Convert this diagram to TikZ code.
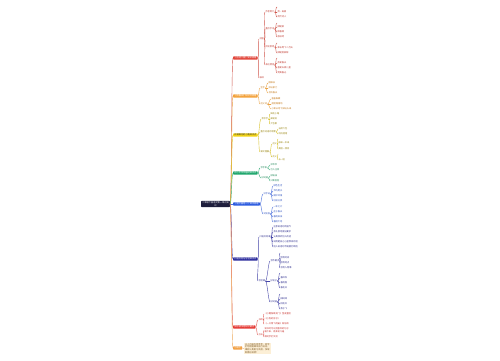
\documentclass[tikz,border=0pt]{standalone}
\usepackage{fontspec}
\setmainfont{Noto Sans CJK SC}
\XeTeXlinebreaklocale "zh"
\XeTeXlinebreakskip=0pt plus 0.5pt
\definecolor{rootC}{HTML}{1E1E3C}
\definecolor{rBox}{HTML}{E2483D}\definecolor{rLine}{HTML}{D0564C}\definecolor{rText}{HTML}{C03A30}
\definecolor{oBox}{HTML}{F3A23B}\definecolor{oLine}{HTML}{EBA445}\definecolor{oText}{HTML}{C57A1A}
\definecolor{yBox}{HTML}{F4D516}\definecolor{yLine}{HTML}{D9C22A}\definecolor{yText}{HTML}{9A8612}
\definecolor{gBox}{HTML}{1EA66C}\definecolor{gLine}{HTML}{37AD78}\definecolor{gText}{HTML}{1B8656}
\definecolor{bBox}{HTML}{2C5BE0}\definecolor{bLine}{HTML}{4A70DD}\definecolor{bText}{HTML}{2A4FBF}
\definecolor{nBox}{HTML}{2E2E9E}\definecolor{nLine}{HTML}{4545A8}\definecolor{nText}{HTML}{2E2E8E}
\definecolor{r2Box}{HTML}{E53B36}\definecolor{r2Line}{HTML}{E0554F}\definecolor{r2Text}{HTML}{C8302B}
\definecolor{o2Box}{HTML}{F2A145}\definecolor{o2Line}{HTML}{EDA85A}
\definecolor{noteC}{HTML}{FCEFD6}\definecolor{noteText}{HTML}{7A5520}
\begin{document}
\begin{tikzpicture}[x=1pt,y=-1pt,line cap=round,line join=round,
  every node/.style={font=\fontsize{2.2}{2.7}\selectfont},
  mainbox/.style={anchor=west,rounded corners=0.6pt,inner xsep=1.2pt,inner ysep=0.7pt,text=white},
  sub/.style={anchor=west,inner sep=0.3pt},
  link/.style={line width=0.4pt},
  bra/.style={link,to path={.. controls +(1.5,0) and +(-1.5,0) .. (\tikztotarget)}}]
  \useasboundingbox[fill=white] (0,0) rectangle (500,360);
  % root and the eight main branches
  \node[mainbox,anchor=center,fill=rootC,align=center] (root) at (215.5,204)
    {二年级下册语文第一单元知\\识};
  \node[mainbox,fill=rBox] (m1) at (233,58) {《古诗二首》知识梳理};
  \node[mainbox,fill=oBox] (m2) at (233,96) {《找春天》知识点梳理};
  \node[mainbox,fill=yBox,text=black!80] (m3) at (233,135) {开满鲜花的小路知识点};
  \node[mainbox,fill=gBox] (m4) at (233,173) {邓小平爷爷植树知识点};
  \node[mainbox,fill=bBox] (m5) at (233,204) {《语文园地一》知识梳理};
  \node[mainbox,fill=nBox] (m6) at (233,259) {口语交际与写话知识点};
  \node[mainbox,fill=r2Box] (m7) at (233,327) {快乐读书吧知识要点};
  \node[mainbox,fill=o2Box] (m8) at (233,348) {小贴士};
  \foreach \m/\c in {m1/rLine,m2/oLine,m3/yLine,m4/gLine,m5/bLine,m6/nLine,m7/r2Line,m8/o2Line}
    \draw[bra,\c] (root.east) to (\m.west);

  % (1) red branch
  \node[sub,rText] (m1a) at (259,39) {村居};
  \node[sub,rText] (m1b) at (259,78) {咏柳};
  \foreach \n in {m1a,m1b} \draw[bra,rLine] (m1.east) to (\n.west);
  \foreach \y/\t [count=\i] in {12/作者简介,29/重点字词,47/诗句意思,65/表达情感}
    {\node[sub,rText] (m1a\i) at (265,\y) {\t};
     \draw[bra,rLine] (m1a.east) to (m1a\i.west);}
  \foreach \p/\ty in {m1a1/7,m1a2/23,m1a3/43,m1a4/58}
    {\coordinate (\p t) at (277,\ty); \draw[bra,rLine] (\p.east) to (\p t);}
  \foreach \p/\y/\t [count=\i] in {m1a1/12/清·高鼎,m1a1/17/清代诗人,
      m1a2/27/拂堤柳,m1a2/32/醉春烟,m1a2/37/放纸鸢,
      m1a3/48/草长莺飞二月天,m1a3/53/拂堤杨柳醉,
      m1a4/63/热爱春天,m1a4/68/喜爱天真儿童,m1a4/73/赞美春光}
    {\node[sub,rText] (m1x\i) at (277,\y) {\t};
     \draw[bra,rLine] (\p.east) to (m1x\i.west);}

  % (2) orange branch
  \node[sub,oText] (m2a) at (260,88) {生字};
  \node[sub,oText] (m2b) at (260,104) {近义词};
  \foreach \n in {m2a,m2b} \draw[bra,oLine] (m2.east) to (\n.west);
  \foreach \p/\x/\y/\t [count=\i] in {m2a/268/83/脱棉袄,m2a/268/88/冲出家门,m2a/268/93/寻找春天,
      m2b/271/99/害羞躲藏,m2b/271/104/遮遮掩掩地,m2b/271/109/小草从地下探出头来}
    {\node[sub,oText] (m2x\i) at (\x,\y) {\t};
     \draw[bra,oLine] (\p.east) to (m2x\i.west);}

  % (3) yellow branch
  \node[sub,yText] (m3a) at (261,119) {会写字};
  \node[sub,yText] (m3b) at (260,132) {重点词语的积累};
  \node[sub,yText] (m3c) at (260,152) {课文理解};
  \foreach \n in {m3a,m3b,m3c} \draw[bra,yLine] (m3.east) to (\n.west);
  \node[sub,yText] (m3c1) at (272,144) {近义};
  \node[sub,yText] (m3c2) at (272,157) {反义};
  \foreach \n in {m3c1,m3c2} \draw[bra,yLine] (m3c.east) to (\n.west);
  \foreach \p/\ty in {m3c1/139,m3c2/154}
    {\coordinate (\p t) at (278,\ty); \draw[bra,yLine] (\p.east) to (\p t);}
  \foreach \p/\x/\y/\t [count=\i] in {m3a/270/114/鲜花小路,m3a/270/119/邮递员,m3a/270/124/大包裹,
      m3b/278/129/五颜六色,m3b/278/134/叽叽喳喳,
      m3c1/278/143/原来—本来,m3c1/278/149/美丽—漂亮,m3c2/278/160/长—短}
    {\node[sub,yText] (m3x\i) at (\x,\y) {\t};
     \draw[bra,yLine] (\p.east) to (m3x\i.west);}

  % (4) green branch
  \node[sub,gText] (m4a) at (260,168) {写字表};
  \node[sub,gText] (m4b) at (261,178) {好词语};
  \foreach \n in {m4a,m4b} \draw[bra,gLine] (m4.east) to (\n.west);
  \foreach \p/\y/\t [count=\i] in {m4a/165/邓爷爷,m4a/170/引人注目,m4b/176/绿油油,m4b/181/兴致勃勃}
    {\node[sub,gText] (m4x\i) at (270,\y) {\t};
     \draw[bra,gLine] (\p.east) to (m4x\i.west);}

  % (5) blue branch
  \node[sub,bText] (m5a) at (263,194) {识字站};
  \node[sub,bText] (m5b) at (263,214) {词句段};
  \foreach \n in {m5a,m5b} \draw[bra,bLine] (m5.east) to (\n.west);
  \foreach \p/\y/\t [count=\i] in {m5a/186/绿色生活,m5a/191/节约用水,m5a/196/保护环境,m5a/201/垃圾分类,
      m5b/207/一年之计,m5b/212/在于春天,m5b/217/春雨如油,m5b/222/春回大地}
    {\node[sub,bText] (m5x\i) at (273,\y) {\t};
     \draw[bra,bLine] (\p.east) to (m5x\i.west);}

  % (6) navy branch
  \node[sub,nText] (m6a) at (259,237) {口语交际课};
  \node[sub,nText] (m6b) at (258,281) {写话课};
  \foreach \n in {m6a,m6b} \draw[bra,nLine] (m6.east) to (\n.west);
  \foreach \y/\t [count=\i] in {227/注意说话时的语气,232/有礼貌地提出要求,237/认真倾听别人的话,
      242/说清楚自己心里想说的话,247/别人说话时不随便打断他}
    {\node[sub,nText] (m6a\i) at (273,\y) {\t};
     \draw[bra,nLine] (m6a.east) to (m6a\i.west);}
  \foreach \y/\t [count=\i] in {261/写作要求,281/好句子,302/好词语}
    {\node[sub,nText] (m6b\i) at (270,\y) {\t};
     \draw[bra,nLine] (m6b.east) to (m6b\i.west);}
  \foreach \p/\ty in {m6b1/253,m6b2/273,m6b3/294}
    {\coordinate (\p t) at (280,\ty); \draw[bra,nLine] (\p.east) to (\p t);}
  \foreach \p/\y/\t [count=\i] in {m6b1/258/写清时间,m6b1/263/写清地点,m6b1/268/写清人物事,
      m6b2/278/春风吹,m6b2/283/春雨落,m6b2/288/春花开,
      m6b3/299/柳树绿,m6b3/304/桃花红,m6b3/309/燕子飞}
    {\node[sub,nText] (m6x\i) at (280,\y) {\t};
     \draw[bra,nLine] (\p.east) to (m6x\i.west);}

  % (7) red branch, reading
  \node[sub,r2Text] (m7a) at (258,320) {书目};
  \node[sub,r2Text] (m7b) at (258,335) {方法};
  \foreach \n in {m7a,m7b} \draw[bra,r2Line] (m7.east) to (\n.west);
  \foreach \p/\y/\t [count=\i] in {m7a/314/《小鲤鱼跳龙门》金波童话,m7a/319/《小狗的房子》,
      m7a/324/《一只想飞的猫》陈伯吹,m7b/337/和同学们交流}
    {\node[sub,r2Text] (m7x\i) at (264,\y) {\t};
     \draw[bra,r2Line] (\p.east) to (m7x\i.west);}
  \node[sub,r2Text,align=left] (m7x5) at (264,330.5) {读书时可以把喜欢的句子\\画下来，再多读几遍};
  \draw[bra,r2Line] (m7b.east) to (m7x5.west);

  % (8) note
  \node[anchor=west,fill=noteC,text=noteText,text width=25pt,inner sep=0.8pt,align=left] (m8n) at (244,348.5)
    {以上内容仅供参考，同学们可根据课本自行补充，课后认真复习巩固，争取取得好成绩！};
  \draw[bra,o2Line] (m8.east) to (m8n.west);
\end{tikzpicture}
\end{document}
